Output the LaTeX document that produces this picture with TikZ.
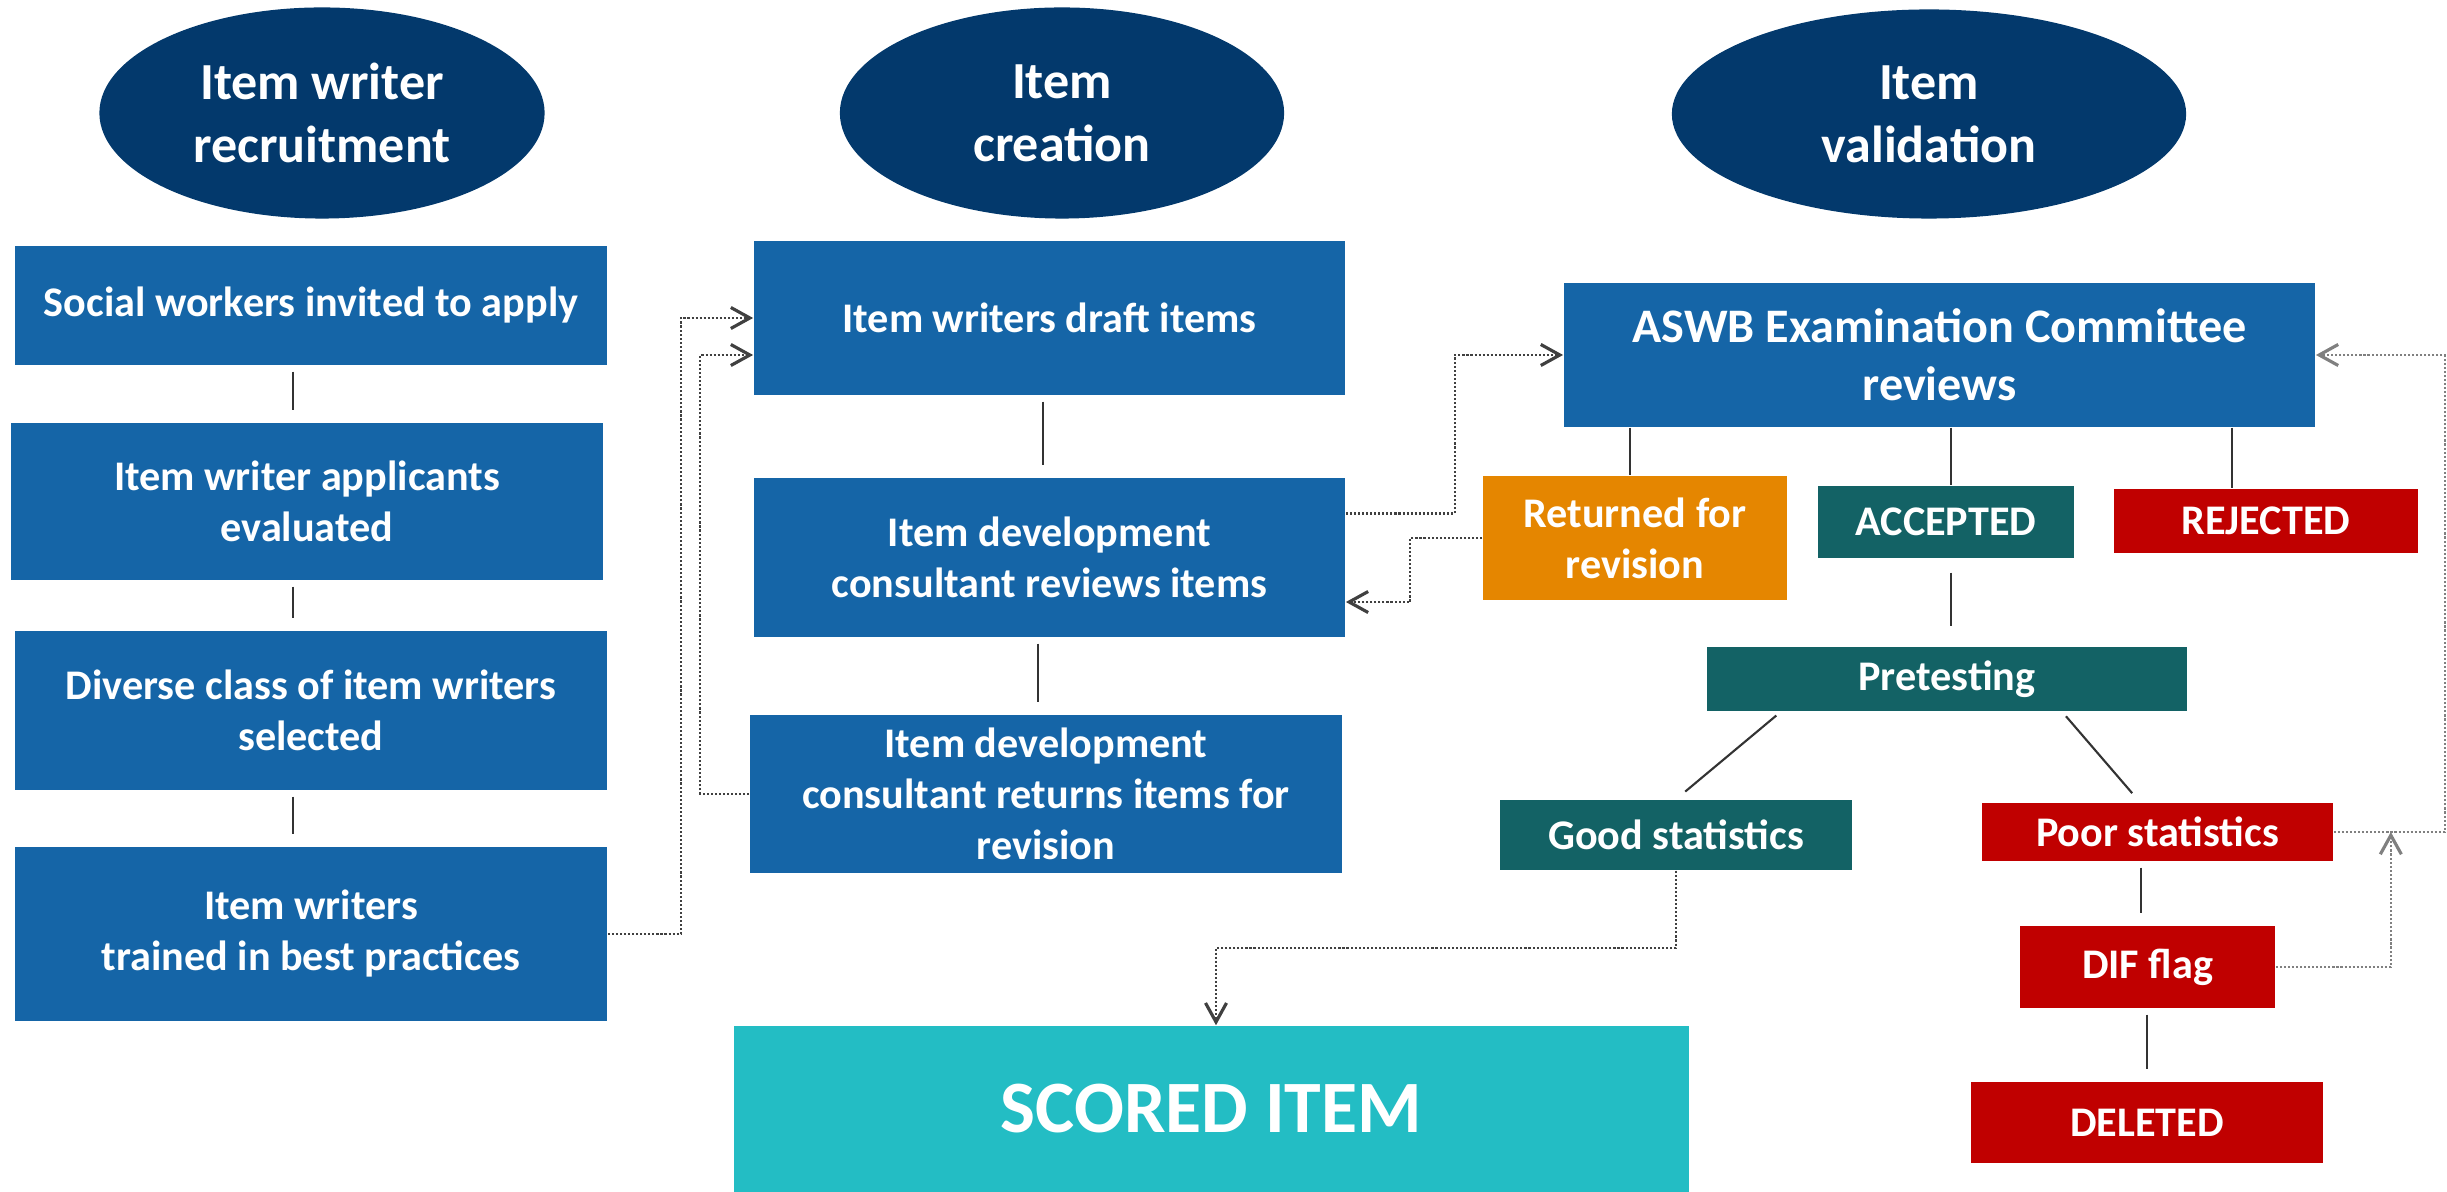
\documentclass[tikz,border=0pt]{standalone}
\usepackage{fontspec}
\setmainfont{Carlito}
\usepackage{tikz}
\usetikzlibrary{shapes.geometric,arrows.meta}

\definecolor{phasenavy}{HTML}{03396C}
\definecolor{stepblue}{HTML}{1565A7}
\definecolor{okteal}{HTML}{136265}
\definecolor{badred}{HTML}{C00000}
\definecolor{backorange}{HTML}{E58600}
\definecolor{scorecyan}{HTML}{23BDC4}

\begin{document}
\begin{tikzpicture}[x=0.01cm, y=-0.01cm,
    phase/.style={ellipse, fill=phasenavy, text=white, inner sep=0pt, align=center,
                  font=\fontsize{14.8}{17.9}\selectfont\bfseries},
    stepbox/.style={rectangle, fill=#1, text=white, inner sep=0pt, align=center,
                    font=\fontsize{12}{14.5}\selectfont\bfseries},
    stepbox/.default=stepblue,
    link/.style={draw=black!80, line width=0.6pt, shorten <=0.6mm, shorten >=1.2mm},
    tie/.style={draw=black!80, line width=0.6pt},
    dotlink/.style={draw=black!75, line width=0.6pt, dash pattern=on 0.6pt off 0.55pt,
                    -{Straight Barb[length=1.9mm,width=2.1mm,line width=0.9pt]}}]
  \useasboundingbox (0,0) rectangle (2447,1192);

  % phases
  \node[phase, minimum width=4.45cm, minimum height=2.11cm] (rec) at (322,113) {Item writer\\recruitment};
  \node[phase, minimum width=4.44cm, minimum height=2.11cm] (cre) at (1062,113) {Item\\creation};
  \node[phase, minimum width=5.14cm, minimum height=2.09cm] (val) at (1929,114) {Item\\validation};

  % recruitment
  \node[stepbox, minimum width=5.92cm, minimum height=1.19cm] (w1) at (311,305.5) {Social workers invited to apply};
  \node[stepbox, minimum width=5.92cm, minimum height=1.57cm] (w2) at (307,501.5) {Item writer applicants\\evaluated};
  \node[stepbox, minimum width=5.92cm, minimum height=1.59cm] (w3) at (311,710.5) {Diverse class of item writers\\selected};
  \node[stepbox, minimum width=5.92cm, minimum height=1.74cm] (w4) at (311,934) {Item writers\\trained in best practices};

  % creation
  \node[stepbox, minimum width=5.91cm, minimum height=1.54cm] (m1) at (1049.5,318) {Item writers draft items};
  \node[stepbox, minimum width=5.91cm, minimum height=1.59cm] (m2) at (1049.5,557.5) {Item development\\consultant reviews items};
  \node[stepbox, minimum width=5.92cm, minimum height=1.58cm] (m3) at (1046,794) {Item development\\consultant returns items for\\revision};
  \node[stepbox=scorecyan, minimum width=9.55cm, minimum height=1.66cm,
        font=\fontsize{21}{25}\selectfont\bfseries] (score) at (1211.5,1109) {SCORED ITEM};

  % validation
  \node[stepbox, minimum width=7.51cm, minimum height=1.44cm,
        font=\fontsize{13.7}{16.5}\selectfont\bfseries] (aswb) at (1939.5,355) {ASWB Examination Committee\\reviews};
  \node[stepbox=backorange, minimum width=3.04cm, minimum height=1.24cm] (ret) at (1635,538) {Returned for\\revision};
  \node[stepbox=okteal, minimum width=2.56cm, minimum height=0.72cm] (acc) at (1946,522) {ACCEPTED};
  \node[stepbox=badred, minimum width=3.04cm, minimum height=0.64cm] (rej) at (2266,521) {REJECTED};
  \node[stepbox=okteal, minimum width=4.80cm, minimum height=0.64cm] (pre) at (1947,679) {Pretesting};
  \node[stepbox=okteal, minimum width=3.52cm, minimum height=0.70cm] (good) at (1676,835) {Good statistics};
  \node[stepbox=badred, minimum width=3.51cm, minimum height=0.58cm] (poor) at (2157.5,832) {Poor statistics};
  \node[stepbox=badred, minimum width=2.55cm, minimum height=0.82cm] (dif) at (2147.5,967) {DIF flag};
  \node[stepbox=badred, minimum width=3.52cm, minimum height=0.81cm] (del) at (2147,1122.5) {DELETED};

  % solid links
  \draw[link] (w1.south -| 293,0) -- (w2.north -| 293,0);
  \draw[link] (w2.south -| 293,0) -- (w3.north -| 293,0);
  \draw[link] (w3.south -| 293,0) -- (w4.north -| 293,0);
  \draw[link] (m1.south -| 1043,0) -- (m2.north -| 1043,0);
  \draw[link] (m2.south -| 1038,0) -- (m3.north -| 1038,0);
  \draw[tie] (aswb.south -| 1630,0) -- (ret.north -| 1630,0);
  \draw[tie] (aswb.south -| 1951,0) -- (acc.north -| 1951,0);
  \draw[tie] (aswb.south -| 2232,0) -- (rej.north -| 2232,0);
  \draw[link, shorten <=1.4mm, shorten >=2mm] (acc.south -| 1951,0) -- (pre.north -| 1951,0);
  \draw[link] ([xshift=-16.6mm]pre.south) -- (good.north);
  \draw[link] ([xshift=11.5mm]pre.south) -- ([xshift=-1.75mm]poor.north);
  \draw[link] (poor.south -| 2141,0) -- (dif.north -| 2141,0);
  \draw[link] (dif.south -| 2147,0) -- (del.north -| 2147,0);

  % dotted loops
  \draw[dotlink] (w4.east) -- ++(73,0) |- (m1.west);
  \draw[dotlink] (m3.west) -- ++(-49,0) |- ([yshift=-3.7mm]m1.west);
  \draw[dotlink] ([yshift=4.4mm]m2.east) -- ++(109,0) |- (aswb.west);
  \draw[dotlink] (ret.west) -- ++(-72,0) |- ([yshift=-4.45mm]m2.east);
  \draw[dotlink] (good.south) -- ++(0,77) -| ([xshift=0.45mm]score.north);
  \draw[dotlink, draw=gray] (poor.east) -- ++(111,0) |- (aswb.east);
  \draw[dotlink, draw=gray] (dif.east) -| ([xshift=5.7mm]poor.east);
\end{tikzpicture}
\end{document}
